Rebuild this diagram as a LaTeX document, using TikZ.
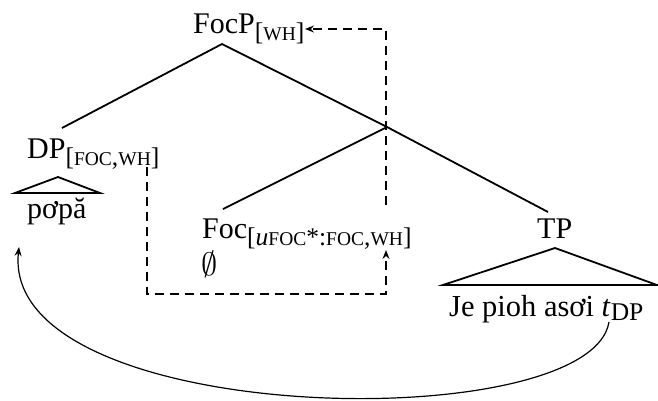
\documentclass[tikz,border=0pt]{standalone}
\usepackage{fontspec}
\setmainfont{Liberation Serif}
\usetikzlibrary{arrows.meta}
\newcommand{\fsub}[1]{\raisebox{-7pt}{\fontsize{25.5}{26}\selectfont #1}}
\newcommand{\fsc}[1]{{\fontsize{19.5}{20}\selectfont #1}}
\begin{document}
\begin{tikzpicture}[x=1pt,y=-1pt,
  lbl/.style={font={\fontsize{30}{36}\selectfont}, inner sep=0pt, anchor=base west},
  branch/.style={line width=1.8pt},
  tri/.style={line width=1.8pt, line join=miter},
  mov/.style={line width=1.3pt, dash pattern=on 9pt off 6pt},
  tipa/.style={-{Stealth[length=9pt,width=7pt,inset=3pt]}},
  curv/.style={line width=1.2pt}]
\useasboundingbox (0,0) rectangle (658,400);
% labels
\node[lbl] (focp) at (193,33) {FocP\fsub{[\fsc{WH}]}};
\node[lbl] (dp) at (27,158) {DP\fsub{[\fsc{FOC},\fsc{WH}]}};
\node[lbl] (popa) at (27,218) {pơpă};
\node[lbl] (foc) at (202,238) {Foc\fsub{[\textit{u}\fsc{FOC}*:\fsc{FOC},\fsc{WH}]}};
\node[lbl] (empty) at (201,275) {\scalebox{1.3}{$\emptyset$}};
\node[lbl] (tp) at (537,238) {TP};
\node[lbl, font={\fontsize{30.5}{36}\selectfont}] (jp) at (449,316) {Je pioh asơi \textit{t}\raisebox{-4pt}{\fontsize{25.5}{26}\selectfont DP}};
% tree coordinates
\coordinate (apex) at (222,44);
\coordinate (dpt) at (62,128);
\coordinate (bar) at (387,127);
\coordinate (foct) at (223,209);
\coordinate (tpt) at (548,212);
\draw[branch] (dpt) -- (apex) -- (bar);
\draw[branch] (foct) -- (bar) -- (tpt);
% triangles
\coordinate (dpa) at (58,177);
\coordinate (dpl) at (15,193);
\coordinate (dpr) at (100,193);
\draw[tri] (dpl) -- (dpa) -- (dpr) -- cycle;
\coordinate (tpa) at (555,248);
\coordinate (tpl) at (443,285);
\coordinate (tpr) at (657,285);
\draw[tri] (tpl) -- (tpa) -- (tpr) -- cycle;
% dashed agreement paths
\coordinate (d1) at (147,167);
\coordinate (d2) at (147,294);
\coordinate (d3) at (386,294);
\coordinate (d4) at (386,250);
\draw[mov, tipa] (d1) -- (d2) -- (d3) -- (d4);
\coordinate (e1) at (386,205);
\coordinate (e2) at (386,29);
\coordinate (e3) at (305,29);
\draw[mov, tipa] (e1) -- (e2) -- (e3);
% movement arrow
\coordinate (ts) at (609,322);
\coordinate (tt) at (19,247);
\draw[curv, tipa] (ts) .. controls (590,438) and (0,428) .. (tt);
\end{tikzpicture}
\end{document}
